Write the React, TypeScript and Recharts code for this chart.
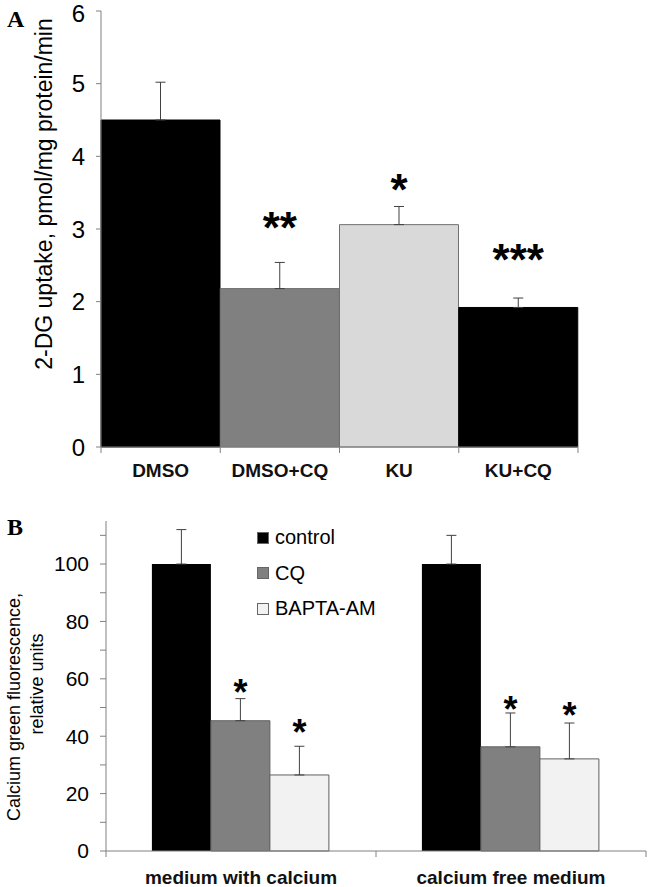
import { BarChart, Bar, XAxis, YAxis, Cell, ErrorBar, LabelList, Legend } from "recharts";

// panel A: 2-DG uptake
const treatments = ["DMSO", "DMSO+CQ", "KU", "KU+CQ"];
const uptake = [4.5, 2.18, 3.06, 1.92];
const uptakeErr = [0.52, 0.36, 0.25, 0.13];
const uptakeStars = ["", "**", "*", "***"];
const uptakeStarAt = [0, 3.15, 3.67, 2.71];
const uptakeColors = ["#000000", "#808080", "#d9d9d9", "#000000"];
const uptakeTicks = [0, 1, 2, 3, 4, 5, 6];

// panel B: calcium green fluorescence
const media = ["medium with calcium", "calcium free medium"];
const seriesNames = ["control", "CQ", "BAPTA-AM"];
const control = [100, 100];
const controlErr = [12, 10];
const cq = [45.4, 36.3];
const cqErr = [7.7, 11.8];
const cqStarAt = [58, 52];
const bapta = [26.5, 32.1];
const baptaErr = [10, 12.5];
const baptaStarAt = [44, 50];
const fluoTicks = [0, 10, 20, 30, 40, 50, 60, 70, 80, 90, 100, 110];

const FONT = "'Liberation Sans', Arial, sans-serif";
const SERIF = "'Liberation Serif', 'Times New Roman', serif";
const AXIS = "#808080";

const dataA = treatments.map((name, i) => ({
  name,
  value: uptake[i],
  err: uptakeErr[i],
  star: uptakeStars[i],
  starAt: uptakeStarAt[i],
}));

const dataB = media.map((name, i) => ({
  name,
  control: control[i],
  controlErr: controlErr[i],
  cq: cq[i],
  cqErr: cqErr[i],
  cqStar: "*|" + cqStarAt[i] + "|" + cq[i],
  bapta: bapta[i],
  baptaErr: baptaErr[i],
  baptaStar: "*|" + baptaStarAt[i] + "|" + bapta[i],
}));

// asterisks placed at a value height above the bar
const starLabel = (fontSize: number) => (p: any) => {
  const [star, at, v] = String(p.value).split("|");
  if (!star) return null;
  const scale = p.height / Number(v);
  const cy = p.y + p.height - Number(at) * scale;
  return (
    <text
      x={p.x + p.width / 2}
      y={cy + fontSize * 0.57}
      textAnchor="middle"
      fontFamily={FONT}
      fontWeight="bold"
      fontSize={fontSize}
      fill="#000"
    >
      {star}
    </text>
  );
};

// tick marks between categories, label in the middle
const boundaryTick = (half: number, n: number, fontSize: number, dy: number) => (p: any) => {
  const { x, y, payload, index } = p;
  return (
    <g>
      <line x1={x - half} x2={x - half} y1={y} y2={y + 6} stroke={AXIS} />
      {index === n - 1 && <line x1={x + half} x2={x + half} y1={y} y2={y + 6} stroke={AXIS} />}
      <text x={x} y={y + dy} textAnchor="middle" fontFamily={FONT} fontWeight="bold" fontSize={fontSize} fill="#111">
        {payload.value}
      </text>
    </g>
  );
};

const legendContent = (p: any) => {
  const items = seriesNames.map((n) => p.payload.find((e: any) => e.value === n)).filter(Boolean);
  return (
    <div style={{ fontFamily: FONT, fontSize: 20, color: "#000" }}>
      {items.map((e: any) => (
        <div key={e.value} style={{ display: "flex", alignItems: "center", height: 35.5 }}>
          <span
            style={{
              width: 10,
              height: 10,
              background: e.color,
              border: "1px solid #666",
              marginRight: 6,
              display: "inline-block",
            }}
          />
          <span>{e.value}</span>
        </div>
      ))}
    </div>
  );
};

export default function App() {
  return (
    <div style={{ position: "absolute", left: 0, top: 0, width: 650, height: 887, background: "#fff" }}>
      <div style={{ position: "absolute", left: 0, top: 0 }}>
        <BarChart width={650} height={480} data={dataA} margin={{ top: 11, right: 72, bottom: 3, left: 41 }} barCategoryGap={0}>
          <XAxis
            dataKey="name"
            stroke={AXIS}
            tickLine={false}
            tickSize={0}
            tickMargin={0}
            interval={0}
            tick={boundaryTick(59.6, 4, 19, 30)}
          />
          <YAxis
            width={60}
            domain={[0, 6]}
            ticks={uptakeTicks}
            stroke={AXIS}
            tickSize={5}
            tickMargin={11}
            tick={{ fill: "#000", fontSize: 24, fontFamily: FONT }}
          />
          <Bar dataKey="value" stroke="#707070" strokeWidth={1} isAnimationActive={false}>
            {dataA.map((d, i) => (
              <Cell key={d.name} fill={uptakeColors[i]} stroke={uptakeColors[i] === "#000000" ? "#000" : "#707070"} />
            ))}
            <ErrorBar dataKey={(d: any) => [0, d.err]} direction="y" width={5} stroke="#404040" strokeWidth={1} />
            <LabelList dataKey={(d: any) => d.star + "|" + d.starAt + "|" + d.value} content={starLabel(44)} />
          </Bar>
        </BarChart>
      </div>

      <div style={{ position: "absolute", left: 0, top: 480 }}>
        <BarChart width={650} height={407} data={dataB} margin={{ top: 41, right: 4, bottom: 6, left: 46 }} barCategoryGap="17%" barGap={0}>
          <XAxis
            dataKey="name"
            stroke={AXIS}
            tickLine={false}
            tickSize={0}
            tickMargin={0}
            interval={0}
            tick={boundaryTick(135, 2, 19, 33)}
          />
          <YAxis
            width={60}
            domain={[0, 115]}
            ticks={fluoTicks}
            stroke={AXIS}
            tickSize={6}
            tickMargin={11}
            tickFormatter={(v: number) => (v % 20 === 0 ? String(v) : "")}
            tick={{ fill: "#000", fontSize: 21, fontFamily: FONT }}
          />
          <Legend
            layout="vertical"
            verticalAlign="middle"
            align="center"
            content={legendContent}
            wrapperStyle={{ left: 257, top: 40, width: 160, height: 110 }}
          />
          <Bar dataKey="control" name="control" fill="#000000" isAnimationActive={false}>
            <ErrorBar dataKey={(d: any) => [0, d.controlErr]} direction="y" width={5} stroke="#404040" strokeWidth={1} />
          </Bar>
          <Bar dataKey="cq" name="CQ" fill="#808080" stroke="#606060" isAnimationActive={false}>
            <ErrorBar dataKey={(d: any) => [0, d.cqErr]} direction="y" width={5} stroke="#404040" strokeWidth={1} />
            <LabelList dataKey="cqStar" content={starLabel(36)} />
          </Bar>
          <Bar dataKey="bapta" name="BAPTA-AM" fill="#f2f2f2" stroke="#606060" isAnimationActive={false}>
            <ErrorBar dataKey={(d: any) => [0, d.baptaErr]} direction="y" width={5} stroke="#404040" strokeWidth={1} />
            <LabelList dataKey="baptaStar" content={starLabel(36)} />
          </Bar>
        </BarChart>
      </div>

      <svg width={650} height={887} style={{ position: "absolute", left: 0, top: 0, pointerEvents: "none" }}>
        <text x={7} y={27} fontFamily={SERIF} fontWeight="bold" fontSize={24}>
          A
        </text>
        <text x={7} y={535} fontFamily={SERIF} fontWeight="bold" fontSize={24}>
          B
        </text>
        <text transform="translate(52,194) rotate(-90)" textAnchor="middle" fontFamily={FONT} fontSize={23} fill="#000">
          2-DG uptake, pmol/mg protein/min
        </text>
        <text transform="translate(20,707) rotate(-90)" textAnchor="middle" fontFamily={FONT} fontSize={18} fill="#000">
          Calcium green fluorescence,
        </text>
        <text transform="translate(43,684) rotate(-90)" textAnchor="middle" fontFamily={FONT} fontSize={18} fill="#000">
          relative units
        </text>
      </svg>
    </div>
  );
}
